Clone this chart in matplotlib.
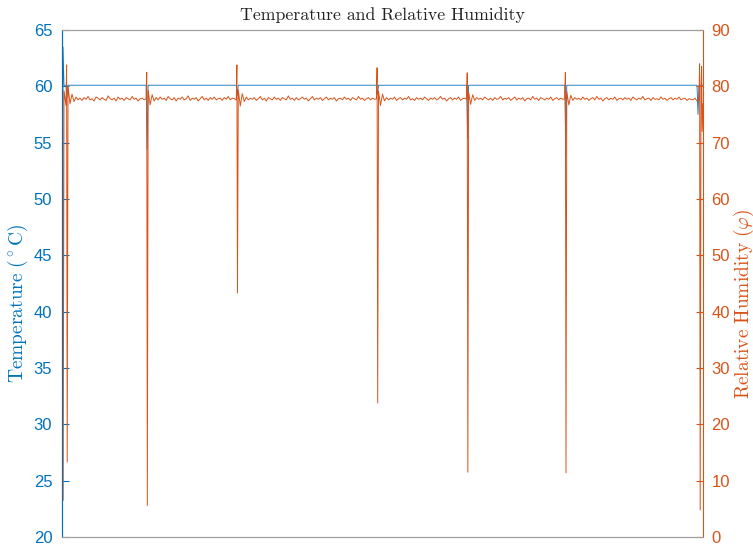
import matplotlib
matplotlib.use("Agg")
import matplotlib.pyplot as plt
import numpy as np

# colours used by the original (MATLAB defaults)
blue = '#0072BD'
orange = '#D95319'

# humidity samples, one every 2 px along the record
hum_base = [
    87.0, 79.2, 76.6, 80.1, 76.9, 78.6, 77.3, 78.1, 77.6, 77.9, 77.5, 78.0, 77.7, 78.2, 77.6, 77.8, 77.4, 78.1, 77.9, 77.6,
    78.0, 77.7, 77.5, 78.3, 77.8, 77.6, 77.9, 77.4, 78.1, 77.7, 77.9, 77.5, 78.0, 77.8, 77.6, 78.2, 77.7, 77.9, 77.4, 77.8,
    77.9, 77.6, 77.8, 79.3, 76.7, 78.5, 77.4, 78.0, 77.6, 78.1, 77.7, 77.9, 77.5, 78.2, 77.8, 77.6, 78.0, 77.4, 77.9, 77.7,
    78.1, 77.6, 77.8, 78.3, 77.5, 77.9, 77.7, 78.0, 77.4, 77.8, 78.2, 77.6, 77.9, 77.5, 78.0, 77.7, 78.1, 77.6, 77.8, 77.9,
    77.5, 78.0, 77.7, 78.2, 77.6, 77.9, 77.8, 77.6, 79.4, 76.5, 78.7, 77.3, 78.1, 77.6, 77.9, 77.7, 78.0, 77.5, 77.8, 78.2,
    77.6, 77.9, 77.4, 78.0, 77.8, 77.6, 78.1, 77.7, 77.9, 77.5, 78.0, 77.8, 77.6, 78.3, 77.7, 77.9, 77.5, 78.0, 77.6, 77.8,
    78.1, 77.7, 77.9, 77.4, 77.8, 78.2, 77.6, 77.9, 77.7, 78.0, 77.5, 77.8, 78.1, 77.6, 77.9, 77.7, 78.0, 77.4, 77.8, 77.9,
    77.6, 78.1, 77.7, 77.9, 77.5, 78.0, 77.8, 77.6, 78.2, 77.7, 77.9, 77.5, 77.8, 78.0, 77.6, 77.9, 77.7, 77.8, 79.2, 76.6,
    78.6, 77.4, 78.0, 77.6, 77.9, 77.7, 78.1, 77.5, 77.8, 78.0, 77.6, 77.9, 77.7, 78.2, 77.6, 77.8, 77.5, 78.0, 77.7, 77.9,
    77.6, 78.1, 77.8, 77.5, 77.9, 77.7, 78.0, 77.6, 77.8, 78.2, 77.7, 77.9, 77.4, 77.8, 78.0, 77.6, 77.9, 77.7, 78.1, 77.5,
    77.8, 77.9, 77.7, 79.0, 76.8, 78.5, 77.5, 78.0, 77.7, 77.9, 77.6, 78.1, 77.8, 77.6, 77.9, 77.5, 78.0, 77.7, 77.8, 78.2,
    77.6, 77.9, 77.7, 78.0, 77.5, 77.8, 78.1, 77.6, 77.9, 77.7, 78.0, 77.4, 77.8, 77.9, 77.6, 78.2, 77.7, 77.9, 77.5, 78.0,
    77.8, 77.6, 77.9, 77.7, 78.1, 77.5, 77.8, 78.0, 77.6, 77.9, 77.7, 77.8, 79.1, 76.7, 78.4, 77.5, 78.0, 77.7, 77.9, 77.6,
    78.1, 77.7, 77.9, 77.5, 77.8, 78.0, 77.6, 78.2, 77.7, 77.9, 77.4, 77.8, 78.0, 77.6, 77.9, 77.7, 78.1, 77.5, 77.8, 77.9,
    77.6, 78.0, 77.7, 77.9, 77.5, 78.1, 77.8, 77.6, 77.9, 77.7, 78.2, 77.6, 77.8, 77.9, 77.5, 78.0, 77.7, 77.8, 77.6, 78.1,
    77.7, 77.9, 77.5, 77.8, 78.0, 77.6, 77.9, 77.7, 78.1, 77.6, 77.8, 77.9, 77.5, 77.8, 77.7, 77.6, 77.9, 77.4, 77.6, 79.8,
    76.9,
]

# humidity spikes: sample index, peak, dip
hum_spike_idx = [0, 2, 42, 87, 157, 202, 251, 318, 319]
hum_spike_hi = [87.0, 83.8, 82.5, 83.8, 83.3, 82.4, 82.5, 84.0, 83.5]
hum_spike_lo = [6.5, 13.3, 5.6, 43.3, 23.8, 11.5, 11.4, 4.8, 72.0]

# temperature: steady level with short drops
temp_level = 60.1
temp_first = 23.3
temp_event_idx = [0, 2, 42, 87, 157, 202, 251, 317]
temp_event_val = [63.5, 59.0, 54.4, 59.2, 59.3, 55.4, 53.8, 57.5]

n = len(hum_base)

# humidity line with the spikes slotted in between samples
hx, hy = [], []
for i in range(n):
    hx.append(i)
    hy.append(hum_base[i])
    if i in hum_spike_idx:
        k = hum_spike_idx.index(i)
        hx += [i + 0.3, i + 0.6]
        hy += [hum_spike_hi[k], hum_spike_lo[k]]

tx, ty = [], []
for i in range(n):
    tx.append(i)
    ty.append(temp_first if i == 0 else temp_level)
    if i in temp_event_idx:
        k = temp_event_idx.index(i)
        tx.append(i + 0.5)
        ty.append(temp_event_val[k])

plt.rcParams['mathtext.fontset'] = 'cm'
tickfont = 'Liberation Sans'

fig = plt.figure(figsize=(7.53, 5.46), dpi=100)
ax1 = fig.add_axes([62 / 753, 9 / 546, 641 / 753, 507 / 546])
ax2 = ax1.twinx()

ax1.plot(tx, ty, color=blue, lw=0.6)
ax2.plot(hx, hy, color=orange, lw=0.7)

ax1.set_xlim(0, n - 1)
ax1.set_ylim(20, 65)
ax2.set_ylim(0, 90)
ax1.set_yticks(np.arange(20, 66, 5))
ax2.set_yticks(np.arange(0, 91, 10))
ax1.set_xticks([])

ax1.tick_params(axis='y', direction='in', length=5, width=0.8, colors=blue,
                labelsize=12, pad=7)
ax2.tick_params(axis='y', direction='in', length=5, width=0.8, colors=orange,
                labelsize=12, pad=6)
for lab in ax1.get_yticklabels() + ax2.get_yticklabels():
    lab.set_fontfamily(tickfont)

for ax in (ax1, ax2):
    ax.spines['top'].set_color('#a0a0a0')
    ax.spines['bottom'].set_color('#a0a0a0')
ax2.spines['left'].set_color(blue)
ax2.spines['right'].set_color(orange)
ax1.spines['left'].set_color(blue)
ax1.spines['right'].set_visible(False)

# labels in LaTeX-style roman through mathtext
ax1.set_ylabel(r'$\mathrm{Temperature\ (^\circ C)}$', color=blue, fontsize=14)
ax2.set_ylabel(r'$\mathrm{Relative\ Humidity\ (\varphi)}$', color=orange,
               fontsize=14, rotation=90)
ax1.yaxis.set_label_coords(-32 / 641, 0.46)
ax2.yaxis.set_label_coords(1 + 29 / 641, 0.46)
ax1.set_title('Temperature and Relative Humidity', fontsize=12.8,
              fontfamily='cmr10', color='#222222', pad=7)

fig.savefig('out.png', dpi=100)
